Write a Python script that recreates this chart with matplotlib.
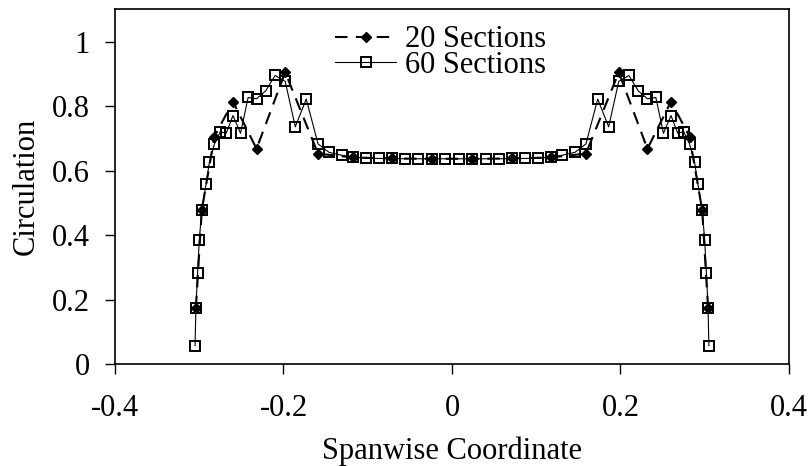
import matplotlib
matplotlib.use("Agg")
import matplotlib.pyplot as plt
from matplotlib.ticker import FuncFormatter

plt.rcParams['font.family'] = ['Liberation Serif', 'DejaVu Serif']
plt.rcParams['axes.unicode_minus'] = False

# 20 sections
x20 = [-0.304, -0.297, -0.282, -0.260, -0.232, -0.198, -0.159, -0.117, -0.071, -0.024,
       0.024, 0.071, 0.117, 0.159, 0.198, 0.232, 0.260, 0.282, 0.297, 0.304]
y20 = [0.174, 0.478, 0.706, 0.814, 0.668, 0.905, 0.653, 0.641, 0.638, 0.637,
       0.637, 0.638, 0.641, 0.653, 0.905, 0.668, 0.814, 0.706, 0.478, 0.174]

# 60 sections
x60_left = [-0.305, -0.304, -0.302, -0.300, -0.297, -0.292, -0.288, -0.282, -0.275, -0.268,
            -0.260, -0.251, -0.242, -0.232, -0.221, -0.210, -0.198, -0.186, -0.173, -0.159,
            -0.146, -0.131, -0.117, -0.102, -0.087, -0.071, -0.056, -0.040, -0.024, -0.008]
y60_left = [0.058, 0.174, 0.284, 0.385, 0.478, 0.558, 0.626, 0.683, 0.721, 0.716,
            0.771, 0.716, 0.827, 0.823, 0.848, 0.895, 0.877, 0.736, 0.822, 0.683,
            0.657, 0.648, 0.642, 0.639, 0.638, 0.638, 0.637, 0.637, 0.637, 0.637]
x60 = x60_left + [-v for v in reversed(x60_left)]
y60 = y60_left + list(reversed(y60_left))

xticks = [-0.4, -0.2, 0, 0.2, 0.4]
yticks = [0, 0.2, 0.4, 0.6, 0.8, 1.0]

FS = 22

fig = plt.figure(figsize=(8.1, 4.66), dpi=100)
ax = fig.add_axes([0.142, 0.218, 0.832, 0.762])

ax.plot(x60, y60, color='black', lw=0.8, marker='s', markersize=6.5,
        markerfacecolor='none', markeredgecolor='black', markeredgewidth=1.4,
        label='60 Sections', zorder=2)
ax.plot(x20, y20, color='black', lw=1.5, dashes=(6, 4), marker='D', markersize=5.5,
        markerfacecolor='black', markeredgecolor='black',
        label='20 Sections', zorder=3)

ax.set_xlim(-0.4, 0.4)
ax.set_ylim(0, 1.1)
ax.set_xticks(xticks)
ax.set_yticks(yticks)

def fmt(v, pos):
    return f"{v:g}"
ax.xaxis.set_major_formatter(FuncFormatter(fmt))
ax.yaxis.set_major_formatter(FuncFormatter(fmt))

ax.tick_params(direction='out', length=7, width=1, labelsize=FS, colors='black')
ax.tick_params(axis='x', pad=14)
ax.tick_params(axis='y', pad=11)
for sp in ax.spines.values():
    sp.set_linewidth(1.2)
    sp.set_color('black')

ax.set_xlabel('Spanwise Coordinate', fontsize=FS, labelpad=10)
ax.set_ylabel('Circulation', fontsize=FS, labelpad=8)

handles, labels = ax.get_legend_handles_labels()
leg = ax.legend(handles[::-1], labels[::-1], loc='upper left',
                bbox_to_anchor=(0.295, 1.015), frameon=False, fontsize=FS,
                labelspacing=-0.12, handlelength=2.0, handletextpad=0.3,
                borderpad=0.2)

fig.savefig('out.png', dpi=100)
